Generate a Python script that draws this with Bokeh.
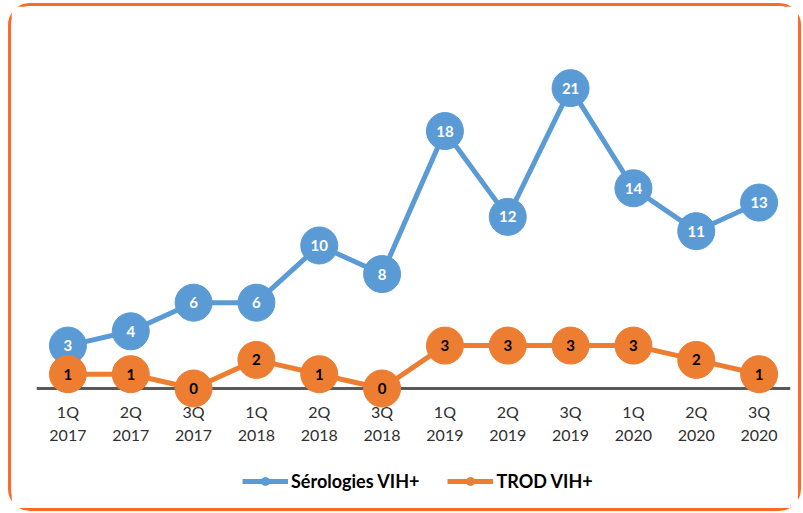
from bokeh.plotting import figure
from bokeh.models import ColumnDataSource, FixedTicker, Span, Legend, LegendItem, Range1d
from bokeh.core.properties import value
from bokeh.embed import file_html
from bokeh.resources import INLINE

quarters = ["1Q\n2017", "2Q\n2017", "3Q\n2017", "1Q\n2018", "2Q\n2018", "3Q\n2018",
            "1Q\n2019", "2Q\n2019", "3Q\n2019", "1Q\n2020", "2Q\n2020", "3Q\n2020"]
serologies = [3, 4, 6, 6, 10, 8, 18, 12, 21, 14, 11, 13]
trod = [1, 1, 0, 2, 1, 0, 3, 3, 3, 3, 2, 1]

BLUE = "#5B9BD5"
ORANGE = "#ED7D31"
FONT = "Lato"

xs = list(range(len(quarters)))
src = ColumnDataSource(dict(x=xs, s=serologies, t=trod,
                            sl=[str(v) for v in serologies], tl=[str(v) for v in trod]))

p = figure(width=793, height=508, output_backend="svg", toolbar_location=None,
           x_range=Range1d(-0.5, 11.5), y_range=Range1d(-8.81, 26.01),
           min_border_left=25, min_border_right=14, min_border_top=10, min_border_bottom=0)
p.styles = {"border": "3px solid #FF6A28", "border-radius": "22px",
            "margin-left": "8px", "margin-top": "3px"}
p.outline_line_color = None
p.xgrid.visible = False
p.ygrid.visible = False
p.yaxis.visible = False

ax = p.xaxis[0]
ax.fixed_location = 0
ax.ticker = FixedTicker(ticks=xs)
ax.major_label_overrides = {i: q for i, q in enumerate(quarters)}
ax.axis_line_color = None
ax.major_tick_line_color = None
ax.minor_tick_line_color = None
ax.major_label_text_font = FONT
ax.major_label_text_font_size = "16px"
ax.major_label_text_color = "#303030"
ax.major_label_text_line_height = 1.2
ax.major_label_standoff = 8

base = Span(location=0, dimension="width", line_color="#595959", line_width=3, level="underlay")
p.add_layout(base)

bl = p.line("x", "s", source=src, line_color=BLUE, line_width=5)
ol = p.line("x", "t", source=src, line_color=ORANGE, line_width=5)
bs_small = p.scatter("x", "s", source=src, size=11, fill_color=BLUE, line_color=BLUE)
os_small = p.scatter("x", "t", source=src, size=11, fill_color=ORANGE, line_color=ORANGE)
p.scatter("x", "s", source=src, size=37, fill_color=BLUE, line_color=BLUE)
p.scatter("x", "t", source=src, size=37, fill_color=ORANGE, line_color=ORANGE)

p.text("x", "s", text="sl", source=src, text_align="center", text_baseline="middle",
       text_color="white", text_font=value(FONT), text_font_style="bold", text_font_size="15px")
p.text("x", "t", text="tl", source=src, text_align="center", text_baseline="middle",
       text_color="black", text_font=value(FONT), text_font_style="bold", text_font_size="15px")

legend = Legend(items=[LegendItem(label="Sérologies VIH+", renderers=[bl, bs_small]),
                       LegendItem(label="TROD VIH+", renderers=[ol, os_small])],
                location=(206, 22), orientation="horizontal",
                glyph_width=46, glyph_height=20, label_standoff=3, spacing=28,
                padding=0, margin=0, border_line_color=None, background_fill_alpha=0,
                label_text_font=FONT, label_text_font_size="18px", label_text_font_style="bold",
                label_text_color="#000000")
p.add_layout(legend)

open("out.html", "w").write(file_html(p, INLINE))
